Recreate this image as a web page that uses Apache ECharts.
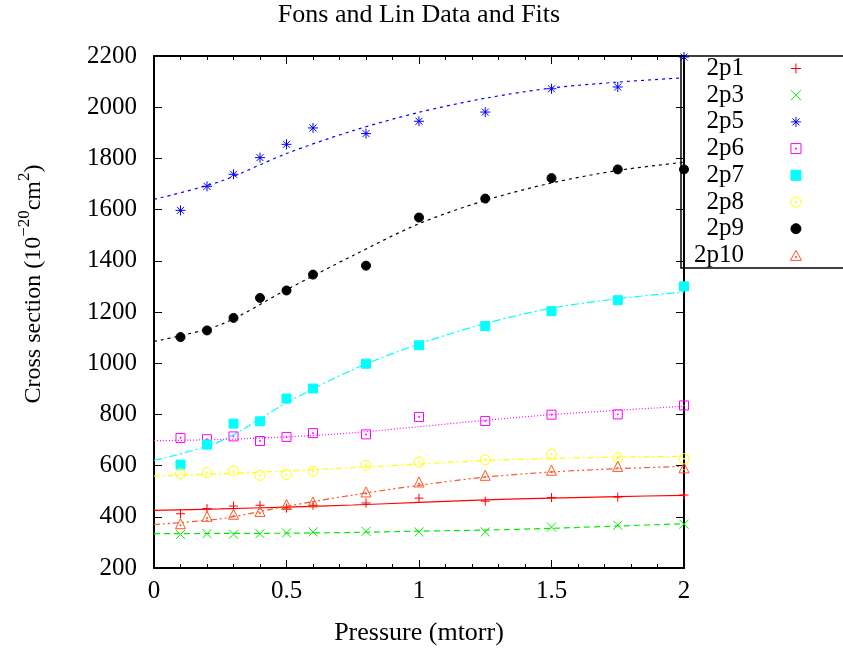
<!DOCTYPE html>
<html>
<head>
<meta charset="utf-8">
<script src="https://cdn.jsdelivr.net/npm/echarts@6/dist/echarts.min.js"></script>
<style>
  html, body { margin: 0; padding: 0; background: #fff; }
  #main { width: 843px; height: 653px; }
</style>
</head>
<body>
<div id="main"></div>
<script>
// measured points (pressure in mtorr, cross section in 1e-20 cm^2)
const pressure = [0.1, 0.2, 0.3, 0.4, 0.5, 0.6, 0.8, 1.0, 1.25, 1.5, 1.75, 2.0];
const p1  = [412, 432, 442, 445, 434, 445, 454, 473, 461, 475, 477, 485];
const p3  = [331, 334, 332, 334, 337, 341, 343, 341, 341, 360, 367, 371];
const p5  = [1597, 1691, 1738, 1803, 1855, 1919, 1897, 1945, 1981, 2072, 2079, 2196];
const p6  = [708, 703, 714, 696, 712, 727, 722, 790, 774, 799, 800, 835];
const p7  = [604, 682, 764, 773, 862, 901, 998, 1070, 1145, 1203, 1246, 1300];
const p8  = [569, 573, 579, 562, 565, 578, 601, 614, 623, 644, 630, 627];
const p9  = [1102, 1128, 1177, 1255, 1284, 1346, 1381, 1569, 1643, 1723, 1757, 1757];
const p10 = [373, 402, 410, 421, 448, 458, 497, 536, 562, 582, 597, 591];

// fit curves
const fitPressure = [0, 0.25, 0.5, 0.75, 1.0, 1.25, 1.5, 1.75, 2.0];
const p1Fit  = [425, 431, 438, 446, 456, 466, 473, 479, 484];
const p3Fit  = [334, 335, 336, 339, 344, 348, 355, 364, 373];
const p5Fit  = [1640, 1710, 1819, 1908, 1980, 2035, 2075, 2098, 2115];
const p6Fit  = [697, 702, 712, 728, 752, 777, 799, 816, 832];
const p7Fit  = [620, 695, 845, 975, 1075, 1155, 1215, 1252, 1278];
const p8Fit  = [559, 568, 579, 592, 606, 620, 628, 633, 636];
const p9Fit  = [1085, 1150, 1287, 1420, 1545, 1636, 1704, 1753, 1785];
const p10Fit = [370, 392, 441, 485, 523, 555, 575, 588, 597];

const names = ['2p1', '2p3', '2p5', '2p6', '2p7', '2p8', '2p9', '2p10'];
const pointSets = [p1, p3, p5, p6, p7, p8, p9, p10];
const fitSets = [p1Fit, p3Fit, p5Fit, p6Fit, p7Fit, p8Fit, p9Fit, p10Fit];

const FONT = '"Liberation Serif", "DejaVu Serif", serif';
const DOT = 'M4.5,4.5L5.5,4.5L5.5,5.5L4.5,5.5Z';
const SQUARE = 'path://M0,0L10,0L10,10L0,10Z';
const CIRCLE = 'path://M10,5A5,5,0,1,1,0,5A5,5,0,1,1,10,5Z';
const styles = [
  { color: '#ff0000', symbol: 'path://M5,0L5,10M0,5L10,5', size: 9, fill: false, dash: 'solid' },
  { color: '#00ee00', symbol: 'path://M0,0L10,10M0,10L10,0', size: 9, fill: false, dash: [6, 4] },
  { color: '#0000ff', symbol: 'path://M5,0L5,10M0,5L10,5M1.5,1.5L8.5,8.5M1.5,8.5L8.5,1.5', size: 10, fill: false, dash: [3, 4] },
  { color: '#ff00ff', symbol: SQUARE + DOT, size: 9, fill: false, dash: [1, 2] },
  { color: '#00ffff', symbol: SQUARE, size: 9, fill: true, dash: [8, 3, 2, 3] },
  { color: '#ffff00', symbol: CIRCLE + DOT, size: 10, fill: false, dash: [6, 3, 2, 3] },
  { color: '#000000', symbol: CIRCLE, size: 9, fill: true, dash: [3, 4] },
  { color: '#ff5522', symbol: 'path://M5,0L10,9L0,9ZM4.5,5.5L5.5,5.5L5.5,6.5L4.5,6.5Z', size: 10, fill: false, dash: [6, 3, 2, 3, 2, 3] }
];

const chart = echarts.init(document.getElementById('main'), null, { renderer: 'canvas' });

const fitSeries = names.map((n, i) => ({
  name: n + ' fit',
  type: 'line',
  xAxisIndex: 0,
  yAxisIndex: 0,
  data: fitPressure.map((x, j) => [x, fitSets[i][j]]),
  smooth: 0.3,
  showSymbol: false,
  symbol: 'none',
  lineStyle: { color: styles[i].color, width: 1.2, type: styles[i].dash },
  itemStyle: { color: styles[i].color },
  z: 2,
  silent: true
}));

const pointSeries = names.map((n, i) => ({
  name: n,
  type: 'scatter',
  xAxisIndex: 0,
  yAxisIndex: 0,
  data: pressure.map((x, j) => [x, pointSets[i][j]]),
  symbol: styles[i].symbol,
  symbolSize: styles[i].size,
  clip: false,
  itemStyle: {
    color: styles[i].fill ? styles[i].color : 'transparent',
    borderColor: styles[i].color,
    borderWidth: 1,
    opacity: 1
  },
  z: 3,
  silent: true
}));

const axisLine = { show: true, onZero: false, lineStyle: { color: '#000', width: 2 } };
const tick = { show: true, inside: true, length: 8, lineStyle: { color: '#000', width: 1 } };
const label = { color: '#000', fontSize: 25, fontFamily: FONT, formatter: v => String(v) };

chart.setOption({
  animation: false,
  backgroundColor: '#fff',
  title: {
    text: 'Fons and Lin Data and Fits',
    left: 419,
    textAlign: 'center',
    top: 2,
    padding: 0,
    textStyle: { color: '#000', fontSize: 26, fontWeight: 'normal', fontFamily: FONT }
  },
  grid: { left: 154, right: 159, top: 56, bottom: 85 },
  xAxis: [
    {
      type: 'value', min: 0, max: 2, interval: 0.5, position: 'bottom',
      axisLine, axisTick: tick,
      minorTick: { show: true, splitNumber: 5, length: 4, lineStyle: { color: '#000' } },
      splitLine: { show: false },
      axisLabel: Object.assign({ margin: 11 }, label),
      name: 'Pressure (mtorr)', nameLocation: 'middle', nameGap: 52,
      nameTextStyle: { color: '#000', fontSize: 26, fontFamily: FONT }
    },
    {
      type: 'value', min: 0, max: 2, interval: 0.5, position: 'top',
      axisLine, axisTick: tick,
      minorTick: { show: true, splitNumber: 5, length: 4, lineStyle: { color: '#000' } },
      splitLine: { show: false },
      axisLabel: { show: false }
    }
  ],
  yAxis: [
    {
      type: 'value', min: 200, max: 2200, interval: 200, position: 'left',
      axisLine, axisTick: tick,
      splitLine: { show: false },
      axisLabel: Object.assign({ margin: 17 }, label),
      name: '{a|Cross section (10}{s|\u221220}{a|cm}{s|2}{a|)}',
      nameLocation: 'middle', nameGap: 108, nameRotate: 90,
      nameTextStyle: {
        padding: [0, 0, 0, 56],
        rich: {
          a: { color: '#000', fontSize: 24, lineHeight: 30, fontFamily: FONT, verticalAlign: 'bottom' },
          s: { color: '#000', fontSize: 17, lineHeight: 19, fontFamily: FONT, verticalAlign: 'top' }
        }
      }
    },
    {
      type: 'value', min: 200, max: 2200, interval: 200, position: 'right',
      axisLine, axisTick: tick,
      splitLine: { show: false },
      axisLabel: { show: false }
    }
  ],
  legend: {
    orient: 'vertical',
    align: 'right',
    right: 41,
    top: 56,
    padding: 0,
    itemWidth: 94,
    itemHeight: 10,
    itemGap: 1.7,
    symbolKeepAspect: true,
    selectedMode: false,
    data: names.map((n, i) => ({ name: n, icon: styles[i].symbol })),
    itemStyle: { borderWidth: 1 },
    textStyle: { color: '#000', fontSize: 25, fontFamily: FONT }
  },
  graphic: [
    {
      type: 'rect',
      shape: { x: 681, y: 56, width: 170, height: 212 },
      style: { fill: 'none', stroke: '#000', lineWidth: 1.5 },
      z: 100,
      silent: true
    }
  ],
  series: fitSeries.concat(pointSeries)
});
</script>
</body>
</html>
